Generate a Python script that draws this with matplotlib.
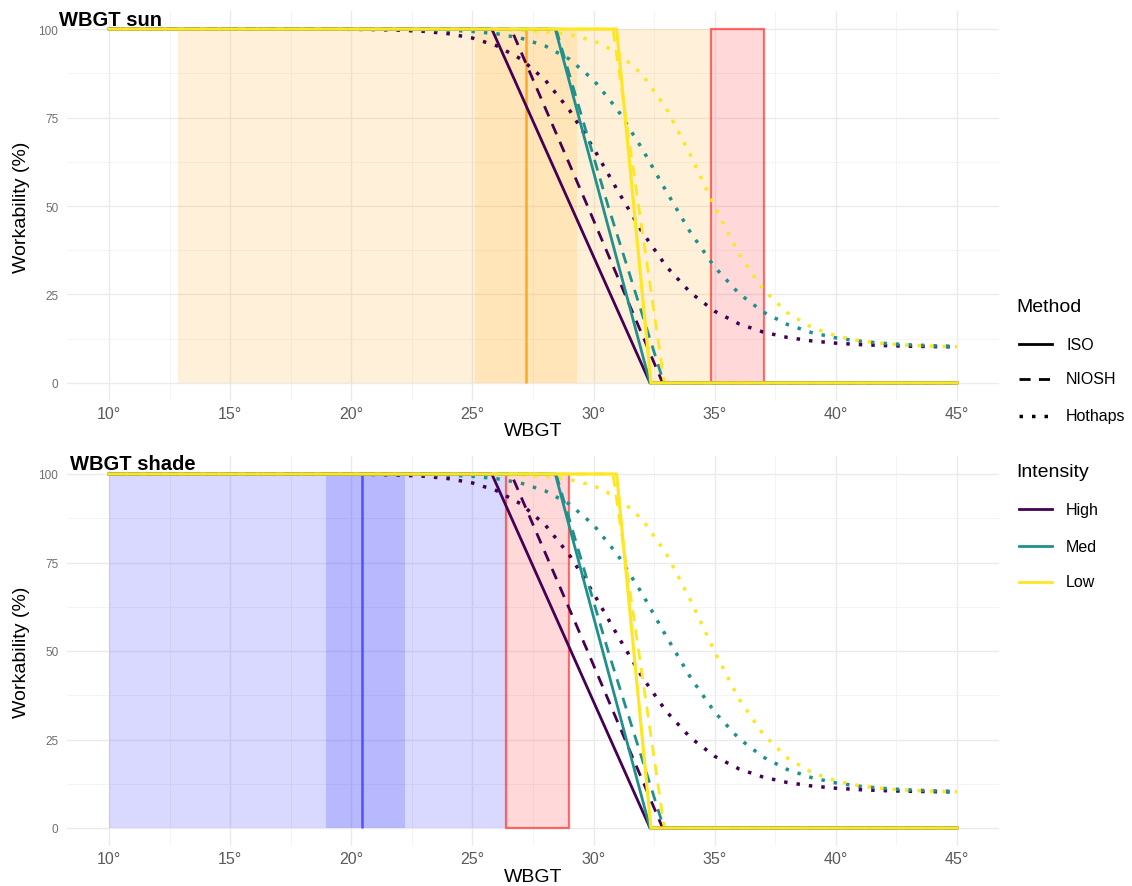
"""
Workability vs WBGT - sun / shade panels
ISO, NIOSH and Hothaps curves for three work intensities
"""

import matplotlib.pyplot as plt
from matplotlib.lines import Line2D
from matplotlib.patches import Rectangle

plt.rcParams["font.family"] = ["Liberation Sans", "DejaVu Sans"]

# ---------------------------------------------
# DATA
# ---------------------------------------------
INTENSITIES = ["High", "Med", "Low"]
METHODS     = ["ISO", "NIOSH", "Hothaps"]
COLORS      = ["#440154", "#21908C", "#FDE725"]   # viridis High / Med / Low

# ISO (solid)
iso_x_high = [10, 25.80, 32.33, 45]
iso_x_med  = [10, 28.42, 32.33, 45]
iso_x_low  = [10, 30.95, 32.37, 45]
iso_y      = [100, 100, 0, 0]

# NIOSH (dashed)
niosh_x_high = [10, 26.60, 29.75, 32.85, 45]
niosh_x_med  = [10, 28.45, 30.60, 32.90, 45]
niosh_x_low  = [10, 30.80, 31.86, 32.92, 45]
niosh_y      = [100, 100, 50, 0, 0]

# Hothaps (dotted)
hot_x = [10, 14, 18, 19, 20, 21, 22, 23, 24, 25, 26, 27, 28, 29, 30, 31,
         32, 33, 34, 35, 36, 37, 38, 39, 40, 41, 42, 43, 44, 45]
hot_y_high = [100.0, 100.0, 99.99, 99.97, 99.94, 99.86, 99.69, 99.36, 98.70, 97.48,
              95.28, 91.55, 85.64, 77.14, 66.30, 54.27, 42.71, 32.94, 25.51, 20.25,
              16.70, 14.37, 12.85, 11.87, 11.24, 10.82, 10.55, 10.37, 10.26, 10.18]
hot_y_med  = [100.0, 100.0, 100.0, 99.99, 99.99, 99.97, 99.93, 99.85, 99.68, 99.34,
              98.68, 97.45, 95.25, 91.52, 85.62, 77.11, 66.24, 54.15, 42.52, 32.72,
              25.28, 20.04, 16.52, 14.22, 12.73, 11.78, 11.17, 10.77, 10.51, 10.34]
hot_y_low  = [100.0, 100.0, 100.0, 100.0, 100.0, 100.0, 100.0, 99.99, 99.98, 99.95,
              99.87, 99.69, 99.29, 98.44, 96.70, 93.32, 87.24, 77.56, 64.39, 49.74,
              36.48, 26.45, 19.79, 15.70, 13.30, 11.91, 11.12, 10.66, 10.39, 10.24]

# shaded WBGT ranges per panel
sun_range   = [12.85, 34.85]
sun_band    = [25.10, 29.30]
sun_centre  = 27.2
sun_red     = [34.85, 37.05]

shade_range  = [10.0, 26.40]
shade_band   = [18.95, 22.20]
shade_centre = 20.45
shade_red    = [26.40, 29.00]

x_major = [10, 15, 20, 25, 30, 35, 40, 45]
x_minor = [12.5, 17.5, 22.5, 27.5, 32.5, 37.5, 42.5]
y_major = [0, 25, 50, 75, 100]
y_minor = [12.5, 37.5, 62.5, 87.5]

# ---------------------------------------------
# STYLE
# ---------------------------------------------
W, H = 1132, 887
LW   = 2.0
STYLE = {
    "ISO":     dict(linestyle="-", lw=LW),
    "NIOSH":   dict(linestyle=(0, (4, 3)), lw=LW),
    "Hothaps": dict(linestyle=(0, (1, 2.6)), lw=2.5),
}

series = {
    "Hothaps": [(hot_x, hot_y_high), (hot_x, hot_y_med), (hot_x, hot_y_low)],
    "NIOSH":   [(niosh_x_high, niosh_y), (niosh_x_med, niosh_y), (niosh_x_low, niosh_y)],
    "ISO":     [(iso_x_high, iso_y), (iso_x_med, iso_y), (iso_x_low, iso_y)],
}


def fx(px):
    return px / W


def fy(py):
    return 1 - py / H


def draw_panel(ax, rng, band, centre, red, tint, line_col):
    # shading (two translucent layers -> darker band)
    ax.fill_betweenx([0, 100], rng[0], rng[1], color=tint, alpha=0.15, lw=0, zorder=1)
    ax.fill_betweenx([0, 100], band[0], band[1], color=tint, alpha=0.15, lw=0, zorder=1)
    ax.plot([centre, centre], [0, 100], color=line_col, lw=1.8, zorder=1.5,
            solid_capstyle="butt")
    ax.add_patch(Rectangle((red[0], 0), red[1] - red[0], 100,
                           facecolor=(1, 0, 0, 0.15), edgecolor=(1, 0, 0, 0.55),
                           lw=1.6, zorder=1.6))

    # curves (yellow ISO ends up on top, as in ggplot)
    for method in ["Hothaps", "NIOSH", "ISO"]:
        for (xs, ys), col in zip(series[method], COLORS):
            extra = 0.3 if (method == "ISO" and col == COLORS[2]) else 0.0
            st = dict(STYLE[method])
            st["lw"] = st["lw"] + extra
            ax.plot(xs, ys, color=col, zorder=3,
                    solid_joinstyle="round", dash_capstyle="butt", **st)

    # axes look (theme_minimal)
    ax.set_xlim(8.25, 46.75)
    ax.set_ylim(-5, 105)
    ax.set_xticks(x_major)
    ax.set_xticks(x_minor, minor=True)
    ax.set_yticks(y_major)
    ax.set_yticks(y_minor, minor=True)
    ax.set_xticklabels([f"{v}°" for v in x_major])
    ax.set_yticklabels([str(v) for v in y_major])
    ax.grid(which="major", color="#EBEBEB", lw=1.0, zorder=0)
    ax.grid(which="minor", color="#F2F2F2", lw=0.6, zorder=0)
    ax.set_axisbelow(True)
    for s in ax.spines.values():
        s.set_visible(False)
    ax.tick_params(which="both", length=0)
    ax.tick_params(axis="x", labelsize=11.5, labelcolor="#5A5A5A", pad=4)
    ax.tick_params(axis="y", labelsize=8.5, labelcolor="#6E6E6E", pad=6)


fig = plt.figure(figsize=(W / 100, H / 100), dpi=100)
ax_sun   = fig.add_axes([fx(66.6), fy(401.6), fx(999.4 - 66.6), (401.6 - 12.4) / H])
ax_shade = fig.add_axes([fx(66.6), fy(846.7), fx(999.4 - 66.6), (846.7 - 457.3) / H])

draw_panel(ax_sun, sun_range, sun_band, sun_centre, sun_red, "#FFA500", "#FFA726")
draw_panel(ax_shade, shade_range, shade_band, shade_centre, shade_red, "#0000FF", "#5050FF")

# titles / axis titles
fig.text(fx(59), fy(20), "WBGT sun", fontsize=14.5, fontweight="bold", va="center", ha="left")
fig.text(fx(70), fy(465), "WBGT shade", fontsize=14.5, fontweight="bold", va="center", ha="left")
for ycen in (207, 652):
    fig.text(fx(22), fy(ycen), "Workability (%)", fontsize=14, rotation=90,
             va="center", ha="center")
for ycen in (432, 878):
    fig.text(fx(533), fy(ycen), "WBGT", fontsize=14, va="center", ha="center")

# ---------------------------------------------
# LEGENDS (drawn by hand at the right)
# ---------------------------------------------
KEY_X0, KEY_X1, LABEL_X = 1019, 1052, 1066

fig.text(fx(1016), fy(308), "Method", fontsize=14, va="center", ha="left")
for lab, ypx in zip(METHODS, [345, 380, 417]):
    fig.add_artist(Line2D([fx(KEY_X0), fx(KEY_X1)], [fy(ypx), fy(ypx)],
                          transform=fig.transFigure, color="black",
                          dash_capstyle="butt", **STYLE[lab]))
    fig.text(fx(LABEL_X), fy(ypx), lab, fontsize=11.5, va="center", ha="left")

fig.text(fx(1016), fy(473), "Intensity", fontsize=14, va="center", ha="left")
for lab, col, ypx in zip(INTENSITIES, COLORS, [510, 547, 583]):
    fig.add_artist(Line2D([fx(KEY_X0), fx(KEY_X1)], [fy(ypx), fy(ypx)],
                          transform=fig.transFigure, color=col, lw=LW))
    fig.text(fx(LABEL_X), fy(ypx), lab, fontsize=11.5, va="center", ha="left")

fig.savefig("out.png", dpi=100)
